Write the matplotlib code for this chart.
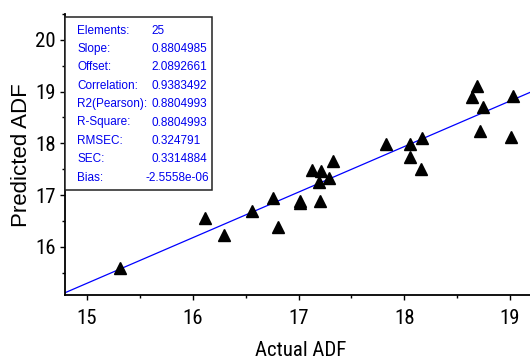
import matplotlib
matplotlib.use("Agg")
import matplotlib.pyplot as plt
from matplotlib.patches import Rectangle
from matplotlib.ticker import MultipleLocator
from matplotlib import font_manager as fm
import numpy as np

# ---- data ----
actual = [15.31, 16.12, 16.30, 16.56, 16.76, 16.81, 17.01, 17.01, 17.13, 17.21,
          17.19, 17.20, 17.29, 17.33, 17.83, 18.05, 18.05, 18.17, 18.16, 18.69,
          18.64, 18.74, 19.03, 18.72, 19.01]
predicted = [15.59, 16.55, 16.22, 16.70, 16.94, 16.39, 16.89, 16.84, 17.49, 17.47,
             17.26, 16.89, 17.34, 17.65, 17.98, 17.98, 17.74, 18.11, 17.50, 19.11,
             18.89, 18.71, 18.92, 18.24, 18.13]
slope = 0.8804985
offset = 2.0892661
stat_labels = ["Elements:", "Slope:", "Offset:", "Correlation:", "R2(Pearson):",
               "R-Square:", "RMSEC:", "SEC:", "Bias:"]
stat_values = ["25", "0.8804985", "2.0892661", "0.9383492", "0.8804993",
               "0.8804993", "0.324791", "0.3314884", "-2.5558e-06"]
x_ticks = [15, 16, 17, 18, 19]
y_ticks = [16, 17, 18, 19, 20]

# pick a narrow face if one is installed
installed = {f.name for f in fm.fontManager.ttflist}
narrow_face = None
for cand in ['Liberation Sans Narrow', 'Arial Narrow', 'Roboto Condensed',
             'Open Sans Condensed', 'DejaVu Sans Condensed']:
    if cand in installed:
        narrow_face = cand
        break
REG = ['Liberation Sans', 'DejaVu Sans']
if narrow_face:
    NARROW = [narrow_face] + REG
    tick_fs, xlab_fs = 15, 15
else:
    NARROW = REG
    tick_fs, xlab_fs = 13, 13.5

W, H = 530, 361
fig = plt.figure(figsize=(W / 100, H / 100), dpi=100)
left, bottom, right, top = 65, 295, 530, 14
ax = fig.add_axes([left / W, 1 - bottom / H, (right - left) / W, (bottom - top) / H])

xlim = (14.792, 19.189)
ylim = (15.07, 20.5)
ax.set_xlim(*xlim)
ax.set_ylim(*ylim)

xs = np.array(xlim)
ax.plot(xs, slope * xs + offset, color='#0000ff', lw=0.9, zorder=2)
ax.plot(actual, predicted, linestyle='none', marker='^', ms=8.5, color='black', zorder=3)

ax.spines['top'].set_visible(False)
ax.spines['right'].set_visible(False)
for s in ('left', 'bottom'):
    ax.spines[s].set_linewidth(1.3)

ax.set_xticks(x_ticks)
ax.set_yticks(y_ticks)
ax.xaxis.set_minor_locator(MultipleLocator(0.5))
ax.yaxis.set_minor_locator(MultipleLocator(0.5))
ax.tick_params(which='major', direction='out', length=3.5, width=1, labelsize=tick_fs)
ax.tick_params(which='minor', direction='out', length=2.2, width=1)
ax.tick_params(axis='x', which='major', pad=6.5)
ax.tick_params(axis='y', which='major', pad=3)
for lab in ax.get_xticklabels() + ax.get_yticklabels():
    lab.set_family(NARROW)

ax.set_xlabel("Actual ADF", family=NARROW, fontsize=xlab_fs)
ax.xaxis.label.set_va('center')
ax.xaxis.set_label_coords((301 - left) / (right - left), (bottom - 350) / (bottom - top))
ax.set_ylabel("Predicted ADF", family=REG, fontsize=16)
ax.yaxis.label.set_va('center')
ax.yaxis.label.set_ha('center')
ax.yaxis.set_label_coords((22 - left) / (right - left), (bottom - 155) / (bottom - top))

# stats box
bx0, by0, bx1, by1 = 65, 17, 212, 190
rect = Rectangle((bx0 / W, 1 - by1 / H), (bx1 - bx0) / W, (by1 - by0) / H,
                 transform=fig.transFigure, facecolor='white', edgecolor='#222222',
                 lw=1.1, zorder=10)
fig.patches.append(rect)
for i, (lab, val) in enumerate(zip(stat_labels, stat_values)):
    yy = 1 - (30.5 + 18.4 * i) / H
    fig.text(77 / W, yy, lab, color='#0000ee', fontsize=8.5, family=REG,
             va='center', ha='left', zorder=11)
    vx = 146 if val.startswith('-') else 151
    fig.text(vx / W, yy, val, color='#0000ee', fontsize=8.5, family=REG,
             va='center', ha='left', zorder=11)

fig.savefig("out.png", dpi=100)
